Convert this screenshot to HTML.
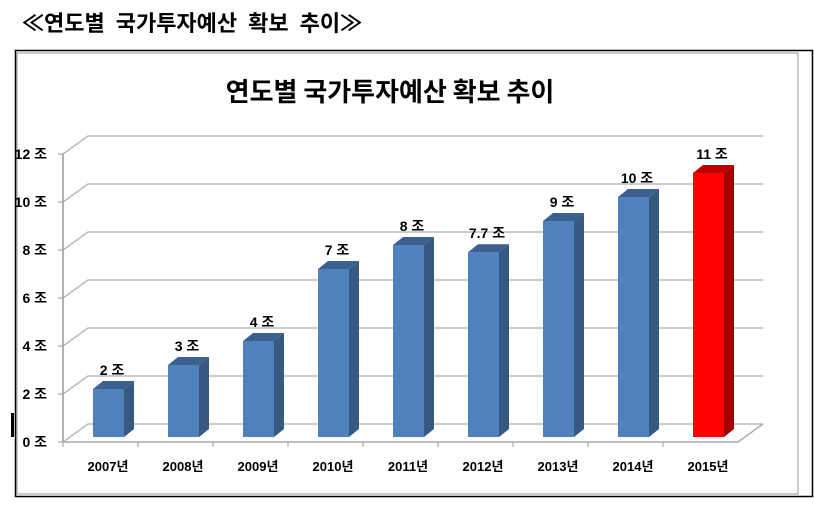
<!DOCTYPE html>
<html><head><meta charset="utf-8"><style>
body{margin:0;background:#fff;width:814px;height:505px;overflow:hidden;font-family:"Liberation Sans","Noto Sans CJK KR",sans-serif}
</style></head><body>
<div style="position:absolute;left:22px;top:6px;font-size:22px;font-weight:bold;font-family:'Noto Sans CJK KR','Liberation Sans',sans-serif;letter-spacing:0px;word-spacing:6px">≪연도별 국가투자예산 확보 추이≫</div>
<svg id="chart" width="814" height="505" style="position:absolute;left:0;top:0" font-family="Liberation Sans, Noto Sans CJK KR, sans-serif">
<rect x="15.5" y="50.5" width="797" height="446" fill="none" stroke="#000" stroke-width="1.5"/>
<rect x="17" y="53" width="781" height="441" fill="none" stroke="#999" stroke-width="1"/>
<text x="390" y="101" text-anchor="middle" font-size="26" font-weight="bold" font-family="Noto Sans CJK KR, sans-serif">연도별 국가투자예산 확보 추이</text>
<rect x="11" y="413" width="3" height="24" fill="#000"/>
<g id="grid"></g><g id="bars"></g><g id="labels"></g>
</svg>
<script>
const categories=["2007년","2008년","2009년","2010년","2011년","2012년","2013년","2014년","2015년"];
const values=[2,3,4,7,8,7.7,9,10,11];
const valueLabels=["2 조","3 조","4 조","7 조","8 조","7.7 조","9 조","10 조","11 조"];
const ticks=[0,2,4,6,8,10,12];
const tickLabels=["0 조","2 조","4 조","6 조","8 조","10 조","12 조"];
const highlight=[false,false,false,false,false,false,false,false,true];
const NS="http://www.w3.org/2000/svg";
function mk(t,a,p){const e=document.createElementNS(NS,t);for(const k in a)e.setAttribute(k,a[k]);p.appendChild(e);return e;}
const X0=63,Y0=442,U=24,DX=25,DY=-18,RIGHT=738,BAND=75;
const yF=v=>Y0-v*U;
const xC=i=>108+i*BAND;
const g=document.getElementById('grid'),b=document.getElementById('bars'),l=document.getElementById('labels');
ticks.forEach((t,i)=>{
 const y=yF(t);
 const p=mk('polyline',{points:`${X0},${y} ${X0+DX},${y+DY} ${RIGHT+DX},${y+DY}`,fill:'none',stroke:'#bbb','stroke-width':1.5},g);
 
 
 const tk=mk('line',{x1:X0-5,y1:y,x2:X0,y2:y,stroke:'#999'},g);
 
 
 const tx=mk('text',{x:X0-16,y:y+5,'text-anchor':'end','font-size':14,'font-weight':'bold'},l);
 
 
 tx.textContent=tickLabels[i];
});
const ax=mk('line',{x1:X0,y1:Y0,x2:X0,y2:yF(12),stroke:'#999','stroke-width':1.5},g);


const fl=mk('polyline',{points:`${X0},${Y0} ${RIGHT},${Y0} ${RIGHT+DX},${Y0+DY}`,fill:'none',stroke:'#aaa','stroke-width':1.5},g);


categories.forEach((c,i)=>{
 const tk=mk('line',{x1:X0+i*BAND,y1:Y0,x2:X0+i*BAND,y2:Y0+5,stroke:'#999'},g);
 
 
 const cx=xC(i),w=31,x=cx-15,base=Y0-5,top=base-values[i]*U,d=10,dy=-8;
 const col=highlight[i]?['#ff0000','#c00000','#a00000']:['#4f81bd','#3b5f8f','#365982'];
 const grp=mk('g',{},b);
 
 
 mk('rect',{x:x,y:top,width:w,height:base-top,fill:col[0]},grp);
 mk('polygon',{points:`${x+w},${top} ${x+w+d},${top+dy} ${x+w+d},${base+dy} ${x+w},${base}`,fill:col[2]},grp);
 mk('polygon',{points:`${x},${top} ${x+d},${top+dy} ${x+w+d},${top+dy} ${x+w},${top}`,fill:col[1]},grp);
 const vl=mk('text',{x:cx+4,y:top-14,'text-anchor':'middle','font-size':14,'font-weight':'bold'},l);
 
 
 vl.textContent=valueLabels[i];
 const cl=mk('text',{x:cx,y:471,'text-anchor':'middle','font-size':13,'font-weight':'bold'},l);
 
 
 cl.textContent=c;
});
</script>
</body></html>
